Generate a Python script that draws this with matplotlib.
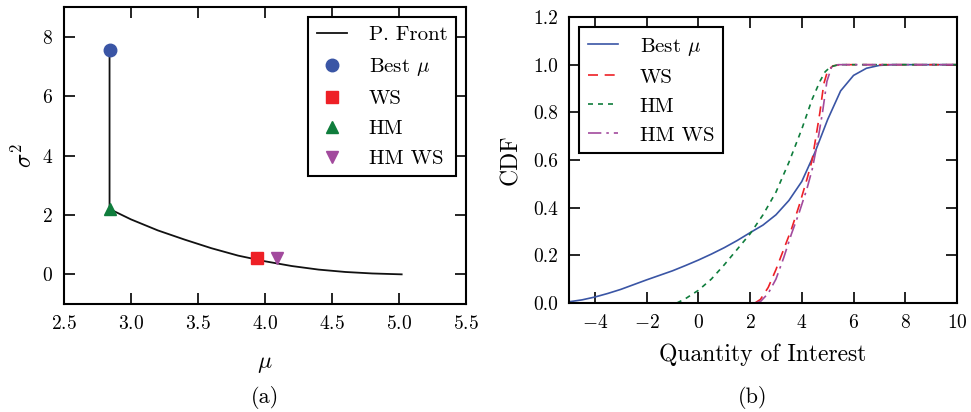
import numpy as np
import matplotlib
matplotlib.use('Agg')
import matplotlib.pyplot as plt

plt.rcParams['font.family'] = 'serif'
plt.rcParams['font.serif'] = ['cmr10']
plt.rcParams['mathtext.fontset'] = 'cm'
plt.rcParams['axes.formatter.use_mathtext'] = True
plt.rcParams['axes.unicode_minus'] = True

# colours
c_blue = '#3a55a5'
c_red = '#ee2026'
c_green = '#0f7d3c'
c_purple = '#a24a9d'

# (a) Pareto front
front_mu = [2.84, 2.84, 2.84, 3.0, 3.2, 3.4, 3.6, 3.8, 4.0, 4.2, 4.4, 4.6, 4.8, 5.02]
front_var = [7.55, 4.0, 2.2, 1.85, 1.48, 1.17, 0.88, 0.63, 0.44, 0.28, 0.16, 0.08, 0.03, 0.0]
best_mu_pt = (2.84, 7.55)
ws_pt = (3.94, 0.55)
hm_pt = (2.84, 2.2)
hmws_pt = (4.09, 0.55)

# (b) CDFs
best_x = [-5, -4.5, -4, -3.5, -3, -2.5, -2, -1.5, -1, -0.5, 0, 0.5, 1, 1.5, 2, 2.5, 3,
          3.5, 4, 4.5, 5, 5.5, 6, 6.5, 7, 7.5, 10]
best_y = [0.005, 0.013, 0.025, 0.04, 0.057, 0.077, 0.097, 0.116, 0.135, 0.157, 0.18, 0.205,
          0.232, 0.262, 0.295, 0.327, 0.37, 0.43, 0.51, 0.63, 0.77, 0.89, 0.955, 0.985,
          0.997, 1.0, 1.0]
ws_x = [2.19, 2.4, 2.7, 3.0, 3.3, 3.6, 3.9, 4.2, 4.4, 4.55, 4.7, 4.85, 5.0, 5.2, 5.5, 10]
ws_y = [0.0, 0.015, 0.065, 0.14, 0.225, 0.31, 0.41, 0.52, 0.6, 0.7, 0.8, 0.92, 0.975, 0.995, 1.0, 1.0]
hm_x = [-0.83, -0.5, 0, 0.5, 1, 1.5, 2, 2.5, 3, 3.5, 4, 4.4, 4.7, 4.9, 5.1, 5.4, 10]
hm_y = [0.0, 0.018, 0.053, 0.1, 0.16, 0.225, 0.29, 0.37, 0.465, 0.59, 0.73, 0.855, 0.93, 0.97,
        0.99, 1.0, 1.0]
hmws_x = [2.2, 2.4, 2.7, 3.0, 3.3, 3.6, 3.9, 4.2, 4.4, 4.6, 4.8, 4.97, 5.15, 5.4, 10]
hmws_y = [0.0, 0.006, 0.04, 0.1, 0.19, 0.29, 0.38, 0.48, 0.56, 0.67, 0.8, 0.93, 0.99, 1.0, 1.0]

fig = plt.figure(figsize=(9.71, 4.12), dpi=100)
ax1 = fig.add_axes([0.0659, 0.262, 0.414, 0.721])
ax2 = fig.add_axes([0.586, 0.2646, 0.3996, 0.6941])

ax1.plot(front_mu, front_var, color='#111111', lw=1.3, label='P. Front')
ax1.plot(*best_mu_pt, 'o', color=c_blue, ms=9, label=r'Best $\mu$', zorder=3)
ax1.plot(*ws_pt, 's', color=c_red, ms=9, label='WS', zorder=3)
ax1.plot(*hm_pt, '^', color=c_green, ms=9, label='HM', zorder=3)
ax1.plot(*hmws_pt, 'v', color=c_purple, ms=9, label='HM WS', zorder=3)
ax1.set_xlim(2.5, 5.5)
ax1.set_ylim(-1, 9)
ax1.set_xticks(np.arange(2.5, 5.51, 0.5))
ax1.set_yticks([0, 2, 4, 6, 8])
ax1.set_xlabel(r'$\mu$', fontsize=17, labelpad=14)
ax1.set_ylabel(r'$\sigma^2$', fontsize=17, labelpad=4)
ax1.legend(loc='upper right', fontsize=15, fancybox=False, edgecolor='black',
           framealpha=1, borderpad=0.4, handlelength=1.45, handletextpad=1.05,
           labelspacing=0.55, numpoints=1)

ax2.plot(best_x, best_y, '-', color=c_blue, lw=1.2, label=r'Best $\mu$')
ax2.plot(ws_x, ws_y, '--', color=c_red, lw=1.2, dashes=(6, 4), label='WS')
ax2.plot(hm_x, hm_y, '--', color=c_green, lw=1.2, dashes=(3, 3), label='HM')
ax2.plot(hmws_x, hmws_y, '-.', color=c_purple, lw=1.2, dashes=(8, 3, 1.5, 3), label='HM WS')
ax2.set_xlim(-5, 10)
ax2.set_ylim(0, 1.2)
ax2.set_xticks([-4, -2, 0, 2, 4, 6, 8, 10])
ax2.set_yticks(np.arange(0, 1.21, 0.2))
ax2.yaxis.set_major_formatter(matplotlib.ticker.FormatStrFormatter('%.1f'))
ax2.set_xlabel('Quantity of Interest', fontsize=17, labelpad=8)
ax2.set_ylabel('CDF', fontsize=17, labelpad=8)
ax2.legend(loc='upper left', fontsize=15, fancybox=False, edgecolor='black',
           framealpha=1, borderpad=0.4, handlelength=1.45, handletextpad=1.05,
           labelspacing=0.5)

for ax in (ax1, ax2):
    ax.tick_params(direction='in', length=8, width=1.2, top=True, right=True,
                   labelsize=14, pad=8)
    for s in ax.spines.values():
        s.set_linewidth(1.5)
    ax.legend_.get_frame().set_linewidth(1.5)

fig.text(0.273, 0.023, '(a)', fontsize=16, ha='center')
fig.text(0.775, 0.023, '(b)', fontsize=16, ha='center')

fig.savefig('out.png', dpi=100)
